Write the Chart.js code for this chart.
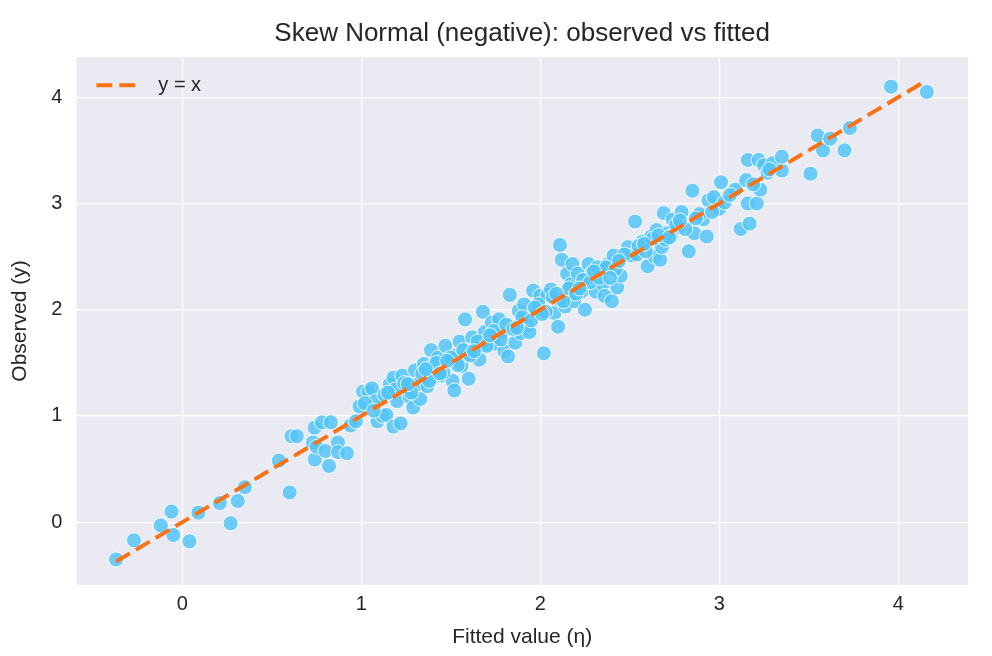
<!DOCTYPE html>
<html><head><meta charset="utf-8">
<script src="https://cdn.jsdelivr.net/npm/chart.js@4"></script>
<style>html,body{margin:0;background:#fff}#w{width:992px;height:656px}</style>
</head><body><div id="w"><canvas id="c"></canvas></div>
<script>
const fittedX = [-0.37,-0.27,-0.12,-0.06,-0.05,0.04,0.09,0.21,0.27,0.31,0.35,0.54,0.60,0.61,0.64,0.73,0.74,0.74,0.75,0.78,0.80,0.82,0.83,0.87,0.87,0.92,0.94,0.97,0.99,1.01,1.04,1.06,1.08,1.09,1.12,1.14,1.16,1.18,1.18,1.20,1.22,1.23,1.25,1.27,1.29,1.30,1.32,1.33,1.35,1.37,1.39,1.40,1.41,1.43,1.45,1.47,1.49,1.51,1.52,1.53,1.55,1.56,1.58,1.59,1.60,1.62,1.64,1.66,1.68,1.69,1.71,1.73,1.75,1.77,1.79,1.80,1.82,1.83,1.84,1.86,1.88,1.89,1.91,1.93,1.94,1.96,1.98,2.00,2.02,2.04,2.06,2.08,2.10,2.10,2.11,2.12,2.14,2.15,2.17,2.18,2.19,2.21,2.23,2.25,2.27,2.29,2.31,2.32,2.35,2.36,2.38,2.40,2.41,2.43,2.45,2.49,2.51,2.53,2.54,2.57,2.60,2.62,2.64,2.65,2.67,2.68,2.69,2.71,2.73,2.74,2.77,2.79,2.83,2.85,2.86,2.88,2.91,2.93,2.94,2.97,3.00,3.01,3.03,3.09,3.12,3.15,3.16,3.16,3.17,3.21,3.22,3.23,3.25,3.27,3.30,3.35,3.35,3.51,3.55,3.58,3.62,3.70,3.73,3.96,4.16,
1.02,1.07,1.13,1.19,1.24,1.28,1.34,1.38,1.42,1.46,1.50,1.54,1.57,1.61,1.65,1.70,1.74,1.78,1.81,1.85,1.90,1.95,1.99,2.03,2.07,2.13,2.16,2.20,2.24,2.28,2.33,2.37,2.42,2.47,2.55,2.59,2.63,2.70,2.76,2.81,2.89,2.96,3.06,3.19,3.28,1.15,1.26,1.36,1.44,1.48,1.63,1.72,1.87,1.97,2.01,2.09,2.22,2.30,2.39,2.44,2.58,2.66,2.72,2.78,2.87];
const observedY = [-0.35,-0.17,-0.03,0.10,-0.12,-0.18,0.09,0.18,-0.01,0.20,0.33,0.58,0.28,0.81,0.81,0.75,0.59,0.89,0.71,0.94,0.67,0.53,0.94,0.75,0.66,0.65,0.91,0.95,1.09,1.23,1.23,1.26,1.14,0.95,1.00,1.01,1.30,1.36,0.90,1.14,0.93,1.38,1.26,1.18,1.08,1.43,1.30,1.16,1.49,1.28,1.62,1.47,1.37,1.55,1.38,1.66,1.53,1.33,1.24,1.57,1.70,1.47,1.91,1.58,1.35,1.74,1.64,1.53,1.98,1.79,1.67,1.88,1.68,1.91,1.79,1.61,1.56,2.14,1.84,1.69,1.99,1.78,2.05,1.85,1.79,2.18,2.01,2.13,1.59,2.14,2.19,1.97,2.10,1.84,2.61,2.47,2.03,2.34,2.24,2.43,2.08,2.34,2.17,2.00,2.43,2.35,2.17,2.40,2.24,2.13,2.43,2.08,2.51,2.21,2.32,2.59,2.51,2.83,2.52,2.64,2.41,2.69,2.50,2.75,2.47,2.59,2.91,2.72,2.69,2.85,2.78,2.92,2.55,3.12,2.72,2.88,2.85,2.69,3.03,3.06,2.95,3.20,3.01,3.13,2.76,3.22,3.00,3.41,2.81,3.00,3.41,3.13,3.36,3.29,3.38,3.31,3.44,3.28,3.64,3.50,3.61,3.50,3.71,4.10,4.05,
1.12,1.05,1.20,1.25,1.31,1.22,1.40,1.33,1.50,1.41,1.55,1.48,1.62,1.57,1.70,1.66,1.80,1.72,1.86,1.82,1.93,1.90,2.05,1.98,2.12,2.08,2.20,2.15,2.28,2.26,2.30,2.40,2.38,2.52,2.60,2.55,2.67,2.66,2.80,2.76,2.90,2.92,3.08,3.18,3.32,1.22,1.30,1.44,1.40,1.52,1.61,1.76,1.83,2.02,1.96,2.15,2.20,2.36,2.30,2.46,2.62,2.70,2.68,2.84,2.86];
const xTicks = [0,1,2,3,4];
const yTicks = [0,1,2,3,4];
const lineEnds = [-0.37, 4.15];
const legendLabel = 'y = x';
const titleText = 'Skew Normal (negative): observed vs fitted';

const FONT = '"Liberation Sans", Arial';
const pts = fittedX.map((x,i)=>({x, y: observedY[i]}));
const bgPlugin = {id:'bg', beforeDraw(c){const a=c.chartArea,ctx=c.ctx;ctx.save();ctx.fillStyle='#eaeaf2';ctx.fillRect(a.left,a.top,a.right-a.left,a.bottom-a.top);ctx.restore();}};
const legPlugin = {id:'leg', afterDraw(c){const a=c.chartArea,ctx=c.ctx;ctx.save();
 ctx.strokeStyle='#f97316';ctx.lineWidth=4;ctx.setLineDash([16,7]);ctx.beginPath();ctx.moveTo(a.left+20,a.top+28);ctx.lineTo(a.left+62,a.top+28);ctx.stroke();
 ctx.fillStyle='#262626';ctx.font='20px '+FONT;ctx.textBaseline='middle';ctx.fillText(legendLabel,a.left+82,a.top+28);
 ctx.font='26px '+FONT;ctx.textAlign='center';ctx.textBaseline='middle';ctx.fillText(titleText,(a.left+a.right)/2,34);
 ctx.restore();}};
const intTicks = (vals)=> (s)=>{s.ticks = vals.map(v=>({value:v}));};
new Chart(document.getElementById('c'),{
 type:'scatter',
 data:{datasets:[
  {type:'line',data:lineEnds.map(v=>({x:v,y:v})),borderColor:'#f97316',borderWidth:4,borderDash:[16,7],pointRadius:0,order:0},
  {data:pts,backgroundColor:'rgba(79,195,247,0.82)',borderColor:'rgba(255,255,255,0.85)',borderWidth:1,pointRadius:7.5,pointHoverRadius:7.5,order:1}
 ]},
 options:{responsive:true,maintainAspectRatio:false,animation:false,
  layout:{padding:{left:4,right:24,top:4,bottom:6}},
  plugins:{legend:{display:false},tooltip:{enabled:false},
   title:{display:true,text:titleText,font:{size:26,family:FONT,weight:'normal'},color:'rgba(0,0,0,0)',padding:{top:14,bottom:8}}},
  scales:{
   x:{type:'linear',min:-0.592,max:4.39,afterBuildTicks:intTicks(xTicks),grid:{color:'#ffffff',lineWidth:1.2,drawTicks:false},border:{display:false},
      ticks:{color:'#262626',font:{size:20,family:FONT},padding:8},
      title:{display:true,text:'Fitted value (η)',color:'#262626',font:{size:21,family:FONT},padding:{top:0,bottom:0}}},
   y:{type:'linear',min:-0.589,max:4.377,afterBuildTicks:intTicks(yTicks),grid:{color:'#ffffff',lineWidth:1.2,drawTicks:false},border:{display:false},
      ticks:{color:'#262626',font:{size:20,family:FONT},padding:14},
      title:{display:true,text:'Observed (y)',color:'#262626',font:{size:21,family:FONT},padding:{bottom:4}}}
  }},
 plugins:[bgPlugin,legPlugin]
});
</script></body></html>
